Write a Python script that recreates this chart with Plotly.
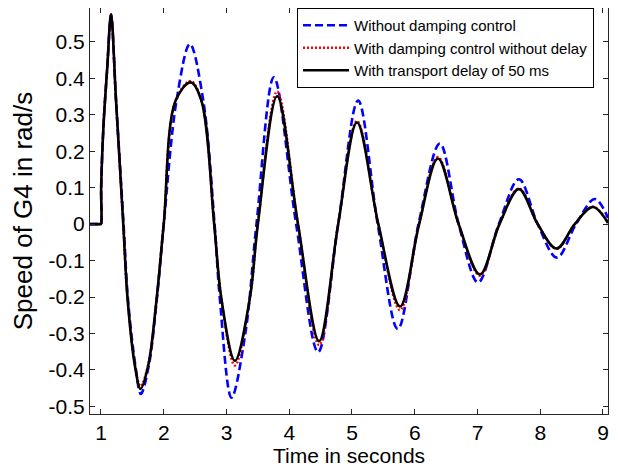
import plotly.graph_objects as go

# readings (time in s, speed in rad/s)
tBlue = [0.82, 0.99, 1.0, 1.003, 1.04, 1.10, 1.16, 1.24, 1.36, 1.43, 1.55, 1.635, 1.76, 1.89, 2.0, 2.204,
         2.417, 2.63, 2.81, 2.895, 3.08, 3.30, 3.478, 3.755, 4.11, 4.46, 4.78, 5.097, 5.41, 5.73, 6.06, 6.40,
         6.70, 7.01, 7.34, 7.66, 7.96, 8.265, 8.57, 8.87, 9.08]
vBlue = [0.0, 0.0, 0.0, 0.10, 0.27, 0.43, 0.575, 0.339, 0.0, -0.206, -0.39, -0.466, -0.39, -0.206, 0.0, 0.339,
         0.494, 0.339, 0.0, -0.206, -0.476, -0.30, 0.0, 0.403, 0.0, -0.351, 0.0, 0.339, 0.0, -0.288, 0.0, 0.221,
         0.0, -0.160, 0.0, 0.123, 0.0, -0.092, 0.0, 0.069, 0.017]

tRed = [0.82, 0.99, 1.0, 1.003, 1.04, 1.10, 1.16, 1.24, 1.355, 1.424, 1.54, 1.63, 1.753, 1.886, 2.0, 2.19,
        2.43, 2.60, 2.804, 2.92, 3.134, 3.37, 3.5, 3.807, 4.14, 4.476, 4.78, 5.08, 5.42, 5.766, 6.07, 6.37,
        6.70, 7.04, 7.35, 7.66, 7.96, 8.26, 8.55, 8.84, 9.08]
vRed = [0.0, 0.0, 0.0, 0.10, 0.27, 0.43, 0.575, 0.339, 0.0, -0.206, -0.385, -0.445, -0.385, -0.206, 0.0, 0.339,
        0.393, 0.339, 0.0, -0.206, -0.388, -0.206, 0.0, 0.364, 0.0, -0.332, 0.0, 0.283, 0.0, -0.236, 0.0, 0.184,
        0.0, -0.142, 0.0, 0.098, 0.0, -0.068, 0.0, 0.048, 0.005]

tBlack = [0.82, 0.99, 1.0, 1.003, 1.04, 1.10, 1.16, 1.24, 1.355, 1.424, 1.54, 1.63, 1.753, 1.886, 2.0, 2.19,
          2.43, 2.60, 2.804, 2.92, 3.134, 3.37, 3.5, 3.807, 4.14, 4.476, 4.78, 5.08, 5.42, 5.766, 6.07, 6.37,
          6.70, 7.04, 7.35, 7.66, 7.96, 8.26, 8.55, 8.84, 9.08]
vBlack = [0.0, 0.0, 0.0, 0.10, 0.27, 0.43, 0.575, 0.339, 0.0, -0.206, -0.388, -0.452, -0.388, -0.206, 0.0, 0.339,
          0.389, 0.339, 0.0, -0.206, -0.375, -0.206, 0.0, 0.351, 0.0, -0.321, 0.0, 0.279, 0.0, -0.226, 0.0, 0.180,
          0.0, -0.138, 0.0, 0.096, 0.0, -0.067, 0.0, 0.047, 0.003]

names = ['Without damping control', 'With damping control without delay', 'With transport delay of 50 ms']

xTicks = [1, 2, 3, 4, 5, 6, 7, 8, 9]
yTicks = [-0.5, -0.4, -0.3, -0.2, -0.1, 0, 0.1, 0.2, 0.3, 0.4, 0.5]
yTickText = ['-0.5', '-0.4', '-0.3', '-0.2', '-0.1', '0', '0.1', '0.2', '0.3', '0.4', '0.5']

fontName = 'Liberation Sans, Arial, sans-serif'
axisColor = '#262626'

# the page body keeps its default 8px margin, so the figure is sized to fit the 618x473 window
figWidth = 610
figHeight = 465

fig = go.Figure()
fig.add_trace(go.Scatter(x=tBlue, y=vBlue, name=names[0], mode='lines',
                         line=dict(color='#0000FF', width=2.6, dash='8px,4px', shape='spline', smoothing=1)))
fig.add_trace(go.Scatter(x=tRed, y=vRed, name=names[1], mode='lines',
                         line=dict(color='#FF0000', width=2.4, dash='2px,2px', shape='spline', smoothing=1)))
fig.add_trace(go.Scatter(x=tBlack, y=vBlack, name=names[2], mode='lines',
                         line=dict(color='#000000', width=2.6, shape='spline', smoothing=1)))

axisStyle = dict(showline=True, linecolor=axisColor, linewidth=1, mirror='ticks', ticks='inside', ticklen=5,
                 tickcolor=axisColor, showgrid=False, zeroline=False, automargin=False,
                 tickfont=dict(size=21, color='#000000'))

fig.update_layout(
    width=figWidth, height=figHeight,
    margin=dict(l=81.5, r=9.5, t=0, b=58.5, pad=0),
    paper_bgcolor='white', plot_bgcolor='white',
    font=dict(family=fontName, color='#000000'),
    xaxis=dict(range=[0.825, 9.08], tickvals=xTicks, ticktext=[str(v) for v in xTicks],
               title=dict(text='Time in seconds', font=dict(size=21), standoff=0), **axisStyle),
    yaxis=dict(range=[-0.521, 0.593], tickvals=yTicks, ticktext=yTickText,
               title=dict(text='Speed of G4 in rad/s', font=dict(size=26), standoff=14), **axisStyle),
    legend=dict(x=0.973, y=1.0, xanchor='right', yanchor='top', bordercolor='#000000', borderwidth=1,
                bgcolor='white', font=dict(size=15), itemwidth=46, tracegroupgap=0),
    showlegend=True,
)

fig.write_html("out.html")
